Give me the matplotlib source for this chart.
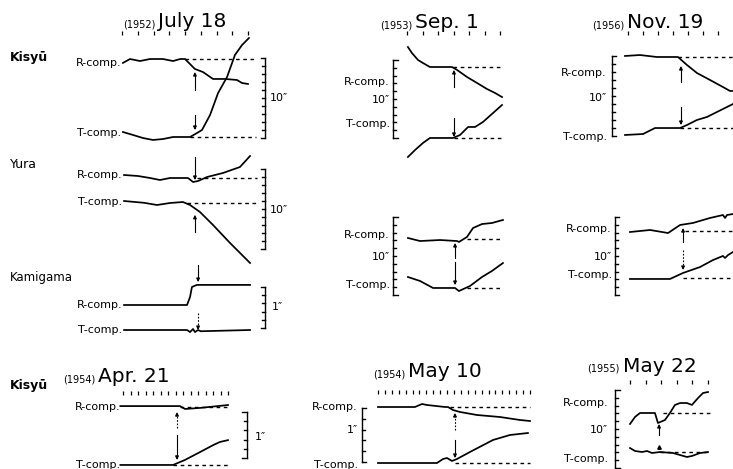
import matplotlib
matplotlib.use("Agg")
import matplotlib.pyplot as plt

# ---------------- data (x in time-tick units, y in seconds of arc) ----------------
# 1952 July 18
jul18_kisyu_r_x = [0.06, 0.51, 1.14, 1.78, 2.6, 3.24, 3.7, 4.0, 4.63, 5.14, 5.78, 6.54, 7.3, 7.62, 8.0]
jul18_kisyu_r_y = [-0.5, 0.0, -0.26, 0.0, 0.0, -0.26, 0.0, 0.0, -1.28, -1.67, -2.56, -2.56, -2.69, -3.08, -3.2]
jul18_kisyu_t_x = [0.06, 0.70, 1.33, 1.97, 2.6, 3.24, 4.32, 4.76, 5.08, 5.59, 6.1, 6.67, 7.17, 7.62, 8.06]
jul18_kisyu_t_y = [-9.36, -9.74, -10.13, -10.38, -10.26, -10.0, -10.0, -9.49, -9.1, -7.18, -4.36, -2.31, 0.51, 1.79, 2.69]

jul18_yura_r_x = [0.13, 1.02, 1.78, 2.41, 3.05, 4.19, 4.51, 4.83, 5.4, 6.41, 7.49, 8.13]
jul18_yura_r_y = [0.375, 0.25, 0.0, -0.25, 0.0, 0.0, -0.5, -0.375, 0.125, 0.625, 1.375, 2.75]
jul18_yura_t_x = [0.13, 1.4, 2.22, 3.05, 3.87, 4.32, 4.95, 5.78, 6.86, 8.13]
jul18_yura_t_y = [-2.875, -3.1, -3.375, -3.125, -3.0, -3.375, -4.25, -5.875, -8.125, -10.625]

jul18_kami_r_x = [0.13, 3.05, 4.13, 4.32, 4.44, 4.76, 8.13]
jul18_kami_r_y = [0.0, 0.0, 0.0, 0.195, 0.44, 0.49, 0.49]
jul18_kami_t_x = [0.13, 4.13, 4.32, 4.51, 4.63, 4.83, 5.0, 8.13]
jul18_kami_t_y = [-0.61, -0.61, -0.66, -0.585, -0.66, -0.61, -0.64, -0.61]

# 1953 Sep. 1
sep1_kisyu_r_x = [0.06, 0.32, 0.71, 1.03, 1.48, 2.9, 3.23, 3.87, 4.52, 5.16, 5.68, 6.13]
sep1_kisyu_r_y = [2.56, 1.79, 0.9, 0.51, 0.0, 0.0, -0.38, -1.28, -2.05, -2.82, -3.33, -3.85]
sep1_kisyu_t_x = [0.06, 0.52, 1.03, 1.48, 2.97, 3.42, 3.94, 4.39, 4.9, 5.55, 6.13]
sep1_kisyu_t_y = [-11.54, -10.64, -9.74, -9.1, -9.1, -8.72, -7.69, -7.69, -7.05, -5.9, -4.87]

sep1_yura_r_x = [0.06, 0.84, 2.13, 3.23, 3.35, 3.87, 4.26, 4.84, 5.48, 6.19]
sep1_yura_r_y = [0.13, -0.26, -0.13, -0.26, -0.38, 0.26, 1.41, 1.92, 2.05, 2.44]
sep1_yura_t_x = [0.06, 0.84, 1.68, 3.1, 3.35, 4.06, 4.84, 5.48, 6.19]
sep1_yura_t_y = [-4.87, -5.38, -6.28, -6.28, -6.67, -6.03, -4.87, -4.1, -3.08]

# 1956 Nov. 19
nov19_kisyu_r_x = [-0.2, 0.8, 1.93, 3.33, 3.93, 4.6, 5.47, 6.33, 6.8, 7.0]
nov19_kisyu_r_y = [0.13, 0.25, 0.0, 0.0, -1.01, -2.03, -2.91, -3.8, -4.3, -4.3]
nov19_kisyu_t_x = [-0.2, 1.0, 1.8, 3.47, 3.93, 4.6, 5.27, 5.93, 6.6, 7.0]
nov19_kisyu_t_y = [-9.87, -9.75, -8.99, -8.99, -8.61, -7.97, -7.59, -6.96, -6.33, -5.95]

nov19_yura_r_x = [0.13, 1.47, 2.67, 3.47, 4.33, 5.47, 6.33, 6.47, 6.6, 7.0]
nov19_yura_r_y = [-0.13, 0.13, -0.26, 0.77, 1.03, 1.67, 2.05, 1.67, 2.05, 2.18]
nov19_yura_t_x = [0.13, 2.8, 3.67, 4.8, 5.67, 6.33, 6.47, 6.67, 7.0]
nov19_yura_t_y = [-6.15, -6.15, -5.38, -4.62, -3.72, -3.2, -3.46, -3.08, -2.69]

# 1954 Apr. 21
apr21_r_x = [-0.35, 7.6, 8.27, 10.27, 14.0]
apr21_r_y = [0.02, 0.02, -0.043, -0.02, 0.043]
apr21_t_x = [-0.35, 6.67, 8.27, 10.27, 12.0, 12.93, 14.0]
apr21_t_y = [-1.26, -1.26, -1.15, -0.98, -0.83, -0.76, -0.72]

# 1954 May 10
may10_r_x = [0, 5.35, 6.37, 7.09, 9.7, 10.13, 10.85, 11.87, 14.33, 17.66, 20.55, 22.0]
may10_r_y = [0, 0, 0.06, 0.04, 0, 0, -0.06, -0.1, -0.16, -0.2, -0.26, -0.28]
may10_t_x = [0, 8.54, 9.41, 9.99, 10.71, 11.43, 13.31, 16.64, 19.1, 21.7]
may10_t_y = [-1.12, -1.12, -1.04, -1.02, -1.08, -1.04, -0.9, -0.66, -0.56, -0.52]

# 1955 May 22
may22_r_x = [0, 0.32, 0.64, 1.6, 1.79, 2.24, 2.56, 2.88, 3.21, 3.65, 3.97, 4.36, 4.68, 5.0]
may22_r_y = [-1.41, -0.51, 0, 0, -1.28, -0.9, 0, 1.03, 1.28, 1.28, 1.03, 1.92, 2.56, 2.69]
may22_t_x = [0, 0.32, 0.77, 1.09, 1.41, 1.92, 2.76, 3.65, 3.97, 4.49, 5.0]
may22_t_y = [-4.49, -4.87, -5.0, -4.87, -5.13, -5.0, -5.13, -5.64, -5.51, -5.13, -5.0]

station_names = ["Kisyū", "Yura", "Kamigama", "Kisyū"]
years = ["(1952)", "(1953)", "(1956)", "(1954)", "(1954)", "(1955)"]
dates = ["July 18", "Sep. 1", "Nov. 19", "Apr. 21", "May 10", "May 22"]

# ---------------- figure ----------------
W, H = 733, 469
fig = plt.figure(figsize=(W / 100, H / 100), dpi=100)
plt.rcParams['font.family'] = ['DejaVu Sans']
K = 'black'


def make_panel(px0, px1, n, py0, sy):
    """Axes whose x runs 0..n over pixels px0..px1, y=0 at pixel row py0, sy px per unit."""
    ax = fig.add_axes([px0 / W, 1 - (py0 + sy) / H, (px1 - px0) / W, sy / H])
    ax.set_xlim(0, n)
    ax.set_ylim(-1, 0)
    ax.set_axis_off()
    return ax, (px1 - px0) / n, sy


def traces(ax, rx, ry, tx, ty):
    ax.plot(rx, ry, color=K, lw=1.25, clip_on=False, solid_joinstyle='round')
    ax.plot(tx, ty, color=K, lw=1.25, clip_on=False, solid_joinstyle='round')


def baselines(ax, lines):
    for y, x0, x1 in lines:
        ax.plot([x0, x1], [y, y], color=K, lw=1.0, ls=(0, (2.6, 2.6)), clip_on=False)


def arrows(ax, sy, items):
    for x, tail, head, dotted in items:
        sgn = 1 if head > tail else -1
        ax.plot([x, x], [tail, head - sgn * 2 / sy], color=K, lw=0.8,
                ls=(0, (1.5, 1.5)) if dotted else '-', clip_on=False)
        ax.annotate('', xy=(x, head), xytext=(x, head - sgn * 4 / sy),
                    arrowprops=dict(arrowstyle='-|>', color=K, lw=0.8,
                                    mutation_scale=5, shrinkA=0, shrinkB=0),
                    annotation_clip=False)


def scale_bar(ax, pxu, x, ytop, ybot, nint, tick_dir, label, lx, ly, ha):
    ax.plot([x, x], [ytop, ybot], color=K, lw=1.0, clip_on=False)
    for i in range(nint + 1):
        y = ytop + (ybot - ytop) * i / nint
        L = (4.5 if i in (0, nint) else 3.0) / pxu
        ax.plot([x, x + tick_dir * L], [y, y], color=K, lw=1.0, clip_on=False)
    ax.text(lx, ly, label, ha=ha, va='center', fontsize=8, color=K)


def comp_labels(ax, x, yr, yt):
    ax.text(x, yr, "R-comp.", ha='right', va='center', fontsize=8, color=K)
    ax.text(x, yt, "T-comp.", ha='right', va='center', fontsize=8, color=K)


def title(ax, pxu, n, ytick, year, date, xd, yb, size=14.5):
    ax.plot(range(n + 1), [ytick] * (n + 1), ls='none', marker='|', ms=3.2,
            mew=0.9, color=K, clip_on=False)
    ax.text(xd - 3 / pxu, yb, year, ha='right', va='baseline', fontsize=7, color=K)
    ax.text(xd, yb, date, ha='left', va='baseline', fontsize=size, color=K)


# station labels (left column)
for name, py, bold, fs in zip(station_names, [57, 165, 277, 385],
                              [True, False, False, True], [9, 9, 8.5, 9]):
    fig.text(10 / W, 1 - py / H, name, ha='left', va='center', fontsize=fs,
             fontweight='bold' if bold else 'normal', color=K)

# ---- July 18, Kisyu ----
ax, pxu, sy = make_panel(122, 248, 8, 59, 7.8)
traces(ax, jul18_kisyu_r_x, jul18_kisyu_r_y, jul18_kisyu_t_x, jul18_kisyu_t_y)
baselines(ax, [(0, 4.0, 8.6), (-10, 4.3, 8.5)])
arrows(ax, sy, [(4.63, -3.97, -1.67, False), (4.63, -7.18, -9.1, False)])
scale_bar(ax, pxu, 9.08, 0.13, -10.13, 10, -1, "10″", 9.4, -5.0, 'left')
comp_labels(ax, -0.06, -0.5, -9.5)
title(ax, pxu, 8, 3.33, years[0], dates[0], 2.29, 4.1)

# ---- July 18, Yura ----
ax, pxu, sy = make_panel(122, 248, 8, 178, 8.0)
traces(ax, jul18_yura_r_x, jul18_yura_r_y, jul18_yura_t_x, jul18_yura_t_y)
baselines(ax, [(0, 4.76, 8.57), (-3.125, 4.13, 8.57)])
arrows(ax, sy, [(4.63, 2.6, -0.25, False), (4.63, -6.75, -4.6, False)])
scale_bar(ax, pxu, 9.08, 1.125, -8.875, 10, -1, "10″", 9.4, -4.0, 'left')
comp_labels(ax, 0.0, 0.375, -3.0)

# ---- July 18, Kamigama ----
ax, pxu, sy = make_panel(122, 248, 8, 305, 41)
traces(ax, jul18_kami_r_x, jul18_kami_r_y, jul18_kami_t_x, jul18_kami_t_y)
arrows(ax, sy, [(4.83, 0.976, 0.56, False), (4.83, -0.195, -0.61, True)])
scale_bar(ax, pxu, 9.08, 0.44, -0.56, 5, -1, "1″", 9.5, -0.05, 'left')
comp_labels(ax, 0.0, 0.0, -0.61)

# ---- Sep. 1, Kisyu ----
ax, pxu, sy = make_panel(407, 500, 6, 67, 7.8)
traces(ax, sep1_kisyu_r_x, sep1_kisyu_r_y, sep1_kisyu_t_x, sep1_kisyu_t_y)
baselines(ax, [(0, 2.97, 6.13), (-9.1, 3.0, 6.13)])
arrows(ax, sy, [(3.03, -2.56, -0.38, False), (3.03, -6.54, -8.97, False)])
scale_bar(ax, pxu, -0.9, 0.9, -9.1, 10, 1, "10″", -1.1, -4.23, 'right')
comp_labels(ax, -1.1, -1.92, -7.3)
title(ax, pxu, 6, 4.36, years[1], dates[1], 0.52, 5.0)

# ---- Sep. 1, Yura ----
ax, pxu, sy = make_panel(407, 500, 6, 239, 7.8)
traces(ax, sep1_yura_r_x, sep1_yura_r_y, sep1_yura_t_x, sep1_yura_t_y)
baselines(ax, [(0, 3.87, 6.19), (-6.28, 3.87, 6.19)])
arrows(ax, sy, [(3.1, -2.44, -0.51, False), (3.1, -2.95, -5.9, False)])
scale_bar(ax, pxu, -0.9, 2.82, -7.18, 10, 1, "10″", -1.1, -2.31, 'right')
comp_labels(ax, -1.1, 0.51, -5.9)

# ---- Nov. 19, Kisyu ----
ax, pxu, sy = make_panel(628, 718, 6, 57, 7.9)
traces(ax, nov19_kisyu_r_x, nov19_kisyu_r_y, nov19_kisyu_t_x, nov19_kisyu_t_y)
baselines(ax, [(0, 3.33, 7.0), (-9.0, 3.47, 7.0)])
arrows(ax, sy, [(3.53, -3.16, -1.14, False), (3.53, -6.33, -8.61, False)])
scale_bar(ax, pxu, -1.07, 0.13, -10.0, 10, 1, "10″", -1.4, -5.2, 'right')
comp_labels(ax, -1.4, -2.03, -10.1)
title(ax, pxu, 6, 3.04, years[2], dates[2], -0.07, 3.67)

# ---- Nov. 19, Yura ----
ax, pxu, sy = make_panel(628, 718, 6, 231, 7.8)
traces(ax, nov19_yura_r_x, nov19_yura_r_y, nov19_yura_t_x, nov19_yura_t_y)
baselines(ax, [(0, 3.8, 7.0), (-6.03, 3.67, 7.0)])
arrows(ax, sy, [(3.67, -1.41, 0.38, False), (3.67, -2.44, -5.0, True)])
scale_bar(ax, pxu, -0.87, 1.79, -8.2, 10, 1, "10″", -1.07, -3.33, 'right')
comp_labels(ax, -1.07, 0.26, -5.64)

# ---- Apr. 21, Kisyu ----
ax, pxu, sy = make_panel(123, 228, 14, 407, 46)
traces(ax, apr21_r_x, apr21_r_y, apr21_t_x, apr21_t_y)
baselines(ax, [(0, 7.6, 14.0), (-1.26, 6.67, 14.0)])
arrows(ax, sy, [(7.2, -0.46, -0.11, True), (7.2, -0.61, -1.15, False)])
scale_bar(ax, pxu, 16.53, -0.11, -1.11, 5, -1, "1″", 17.6, -0.65, 'left')
comp_labels(ax, -0.4, 0.0, -1.26)
title(ax, pxu, 14, 0.3, years[3], dates[3], -3.33, 0.54)

# ---- May 10, Kisyu ----
ax, pxu, sy = make_panel(378, 530, 22, 407, 50)
traces(ax, may10_r_x, may10_r_y, may10_t_x, may10_t_y)
baselines(ax, [(0, 10.42, 22.0), (-1.12, 11.14, 22.0)])
arrows(ax, sy, [(11.14, -0.46, -0.12, True), (11.14, -0.66, -1.02, False)])
scale_bar(ax, pxu, -2.32, -0.02, -1.1, 5, 1, "1″", -2.9, -0.46, 'right')
comp_labels(ax, -2.9, 0.0, -1.16)
title(ax, pxu, 22, 0.3, years[4], dates[4], 4.34, 0.6)

# ---- May 22, Kisyu ----
ax, pxu, sy = make_panel(630, 708, 5, 413, 7.8)
traces(ax, may22_r_x, may22_r_y, may22_t_x, may22_t_y)
baselines(ax, [(0, 2.12, 5.13), (-5.0, 1.92, 5.13)])
arrows(ax, sy, [(1.86, -2.82, -1.41, False)])
ax.plot([1.86], [-4.4], marker='^', ms=2.5, color=K, clip_on=False)
scale_bar(ax, pxu, -0.96, 2.95, -7.05, 10, 1, "10″", -1.41, -2.18, 'right')
comp_labels(ax, -1.41, 1.28, -5.9)
title(ax, pxu, 5, 3.97, years[5], dates[5], -0.45, 5.26)

fig.savefig("out.png", dpi=100, facecolor='white')
